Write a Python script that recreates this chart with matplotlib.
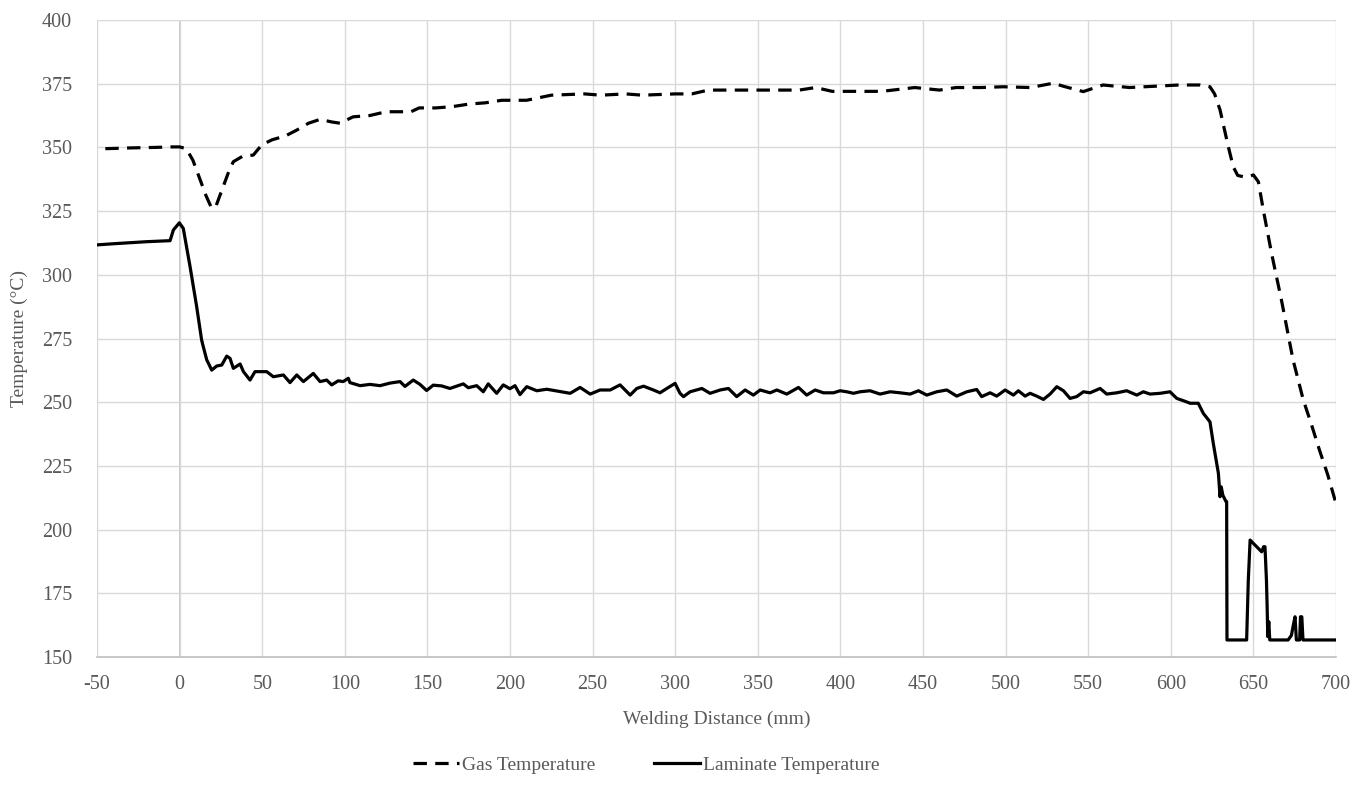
import matplotlib
matplotlib.use("Agg")
import matplotlib.pyplot as plt

plt.rcParams['font.family'] = ['Liberation Serif', 'DejaVu Serif']
plt.rcParams['axes.unicode_minus'] = False

# Gas temperature along the weld (distance mm, temperature °C)
gas_x = [-45, -30, -15, -5, 0, 4, 8, 12, 16, 19.4, 22, 26, 30, 32.5, 38, 44.6, 49.7,
         56, 64, 70.9, 78, 85, 92, 97, 105, 115, 125, 140, 145, 155, 165, 175, 185,
         195, 210, 225, 245, 255, 270, 280, 300, 310, 320, 340, 360, 375, 385, 395,
         410, 425, 445, 460, 470, 485, 498.6, 515, 528.9, 535, 547, 559, 575, 590,
         605, 617.7, 623.7, 626.5, 629.8, 634.8, 637.8, 640.5, 643.9, 647, 650, 653,
         656, 661, 667, 674, 680.2, 685, 690, 695, 699.4, 700.5]
gas_y = [349.5, 349.8, 350.0, 350.2, 350.2, 349.5, 345.0, 338.0, 331.0, 326.1, 327.0,
         334.0, 341.0, 344.4, 346.5, 347.0, 351.0, 353.0, 354.5, 356.8, 359.5, 361.0,
         360.0, 359.5, 362.0, 362.5, 364.0, 364.0, 365.5, 365.5, 366.0, 367.0, 367.5,
         368.5, 368.5, 370.5, 371.0, 370.5, 371.0, 370.5, 371.0, 371.0, 372.5, 372.5,
         372.5, 372.5, 373.5, 372.0, 372.0, 372.0, 373.5, 372.5, 373.5, 373.5, 373.8,
         373.5, 375.2, 374.0, 371.9, 374.5, 373.5, 374.0, 374.5, 374.5, 373.8, 371.0,
         364.7, 350.3, 342.4, 339.0, 338.5, 338.5, 339.2, 336.5, 325.4, 308.4, 290.0,
         266.6, 250.9, 241.5, 231.2, 221.5, 211.6, 209.5]

# Laminate temperature along the weld (distance mm, temperature °C)
lam_x = [-51.2, -40, -30, -20, -5.8, -3.8, -0.2, 2.2, 6.3, 10.3, 13.3, 14.3, 16.4,
         17.4, 19.4, 22.4, 25.5, 28.5, 30.5, 32.5, 36.6, 38.6, 42.6, 45.6, 52.7,
         56.7, 62.8, 66.8, 70.9, 74.9, 80.9, 85.0, 89.0, 92.0, 96.0, 99.0, 102.1,
         103.1, 109.2, 115.2, 121.3, 127.3, 133.4, 136.4, 141.4, 145.5, 149.5, 153.5,
         158.6, 163.6, 171.7, 174.7, 179.8, 183.8, 186.8, 191.9, 195.9, 199.9, 203.0,
         206.0, 210.1, 216.2, 222.2, 230.3, 236.4, 242.4, 248.5, 254.5, 260.6, 266.6,
         272.7, 276.7, 280.8, 286.8, 290.8, 294.9, 299.9, 302.9, 305.0, 309.0, 316.1,
         321.1, 327.2, 332.2, 337.2, 342.3, 347.3, 351.4, 357.4, 361.5, 367.5, 374.6,
         379.6, 384.7, 389.7, 395.8, 399.8, 403.8, 407.9, 411.9, 417.9, 424.0, 430.1,
         436.1, 442.2, 447.2, 452.3, 458.3, 464.4, 470.4, 476.5, 482.5, 485.5, 490.6,
         494.6, 499.7, 504.7, 507.7, 511.8, 514.8, 518.8, 522.9, 526.9, 531.0, 535.0,
         539.0, 543.0, 547.1, 551.1, 557.2, 561.2, 567.3, 573.3, 579.4, 583.4, 587.4,
         593.5, 599.5, 603.6, 607.6, 611.7, 616.6, 619.7, 623.7, 625.7, 628.8, 629.8,
         630.5, 631.5, 633.4, 633.8, 634.0, 640.0, 645.9, 646.9, 648.0, 650.0, 655.0,
         656.2, 657.0, 657.9, 658.3, 658.7, 659.3, 659.9, 671.0, 673.0, 674.0, 675.2,
         676.0, 678.0, 678.5, 679.3, 680.0, 690.0, 701.0]
lam_y = [311.7, 312.2, 312.6, 313.0, 313.4, 317.6, 320.4, 318.2, 303.2, 287.5, 274.4,
         271.8, 266.6, 265.3, 262.6, 264.2, 264.6, 268.1, 267.2, 263.3, 265.0, 262.0,
         258.7, 262.0, 262.0, 260.0, 260.7, 257.7, 260.7, 258.1, 261.3, 258.1, 258.7,
         256.8, 258.4, 258.1, 259.4, 257.7, 256.5, 257.0, 256.5, 257.5, 258.1, 256.2,
         258.7, 257.0, 254.6, 256.7, 256.4, 255.4, 257.2, 255.7, 256.5, 254.1, 257.2,
         253.5, 256.8, 255.3, 256.5, 253.0, 256.1, 254.5, 255.1, 254.2, 253.5, 255.8,
         253.2, 254.8, 254.8, 256.8, 252.8, 255.4, 256.3, 254.8, 253.7, 255.4, 257.4,
         253.5, 252.2, 254.1, 255.4, 253.5, 254.8, 255.4, 252.2, 254.8, 252.8, 254.8,
         253.7, 254.8, 253.2, 255.8, 252.8, 254.8, 253.7, 253.7, 254.5, 254.1, 253.5,
         254.1, 254.5, 253.2, 254.1, 253.7, 253.2, 254.5, 252.8, 254.1, 254.8, 252.4,
         254.1, 255.0, 252.2, 253.7, 252.4, 254.8, 252.8, 254.5, 252.4, 253.5, 252.4,
         251.1, 253.2, 256.1, 254.5, 251.5, 252.2, 254.1, 253.7, 255.4, 253.2, 253.7,
         254.5, 252.8, 254.1, 253.2, 253.5, 254.1, 251.5, 250.6, 249.6, 249.6, 245.6,
         242.3, 233.9, 222.1, 212.9, 216.8, 213.5, 211.0, 211.0, 156.7, 156.7, 156.7,
         180.0, 195.9, 194.6, 191.3, 193.3, 193.3, 180.0, 170.0, 158.0, 163.9, 156.7,
         156.7, 158.5, 162.0, 165.8, 156.7, 156.7, 165.8, 165.8, 156.7, 156.7, 156.7]

x_ticks = list(range(-50, 701, 50))
y_ticks = list(range(150, 401, 25))

fig = plt.figure(figsize=(13.69, 7.94), dpi=100)
ax = fig.add_axes([0.0709, 0.1725, 0.905, 0.8023])

grid_c = '#d9d9d9'
text_c = '#595959'

ax.plot(gas_x, gas_y, color='black', lw=2.3, linestyle=(0, (4.2, 2.6)),
        label='Gas Temperature', zorder=3)
ax.plot(lam_x, lam_y, color='black', lw=2.3, label='Laminate Temperature',
        zorder=3)

ax.set_xlim(-50, 700)
ax.set_ylim(150, 400)
ax.set_xticks(x_ticks)
ax.set_yticks(y_ticks)
ax.grid(True, color=grid_c, lw=1.0, zorder=0)
ax.axvline(0, color='#bfbfbf', lw=1.2, zorder=1)
for s in ['top', 'right', 'left']:
    ax.spines[s].set_visible(False)
ax.spines['bottom'].set_color('#bfbfbf')
ax.spines['bottom'].set_linewidth(1.2)
ax.tick_params(axis='x', length=0, labelsize=14.5, colors=text_c, pad=13)
ax.tick_params(axis='y', length=0, labelsize=14.5, colors=text_c, pad=18)

ax.set_xlabel('Welding Distance (mm)', fontsize=14, color=text_c, labelpad=12)
ax.set_ylabel('Temperature (°C)', fontsize=14, color=text_c, labelpad=10)

leg = fig.legend(loc='center', bbox_to_anchor=(0.472, 0.036), ncol=2,
                 frameon=False, fontsize=14, handlelength=2.4,
                 handletextpad=0.15, columnspacing=3.0)
for t in leg.get_texts():
    t.set_color(text_c)

fig.savefig('out.png', dpi=100)
